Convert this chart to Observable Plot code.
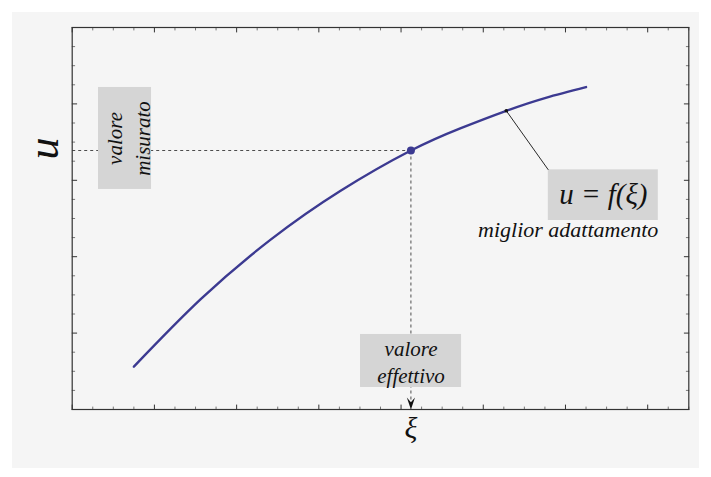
<!DOCTYPE html>
<html><head><meta charset="utf-8">
<script src="https://cdn.jsdelivr.net/npm/d3@7"></script>
<script src="https://cdn.jsdelivr.net/npm/@observablehq/plot@0.6"></script>
<style>
html,body{margin:0;padding:0;background:#fff;}
#chart{position:absolute;left:12px;top:12px;}
</style></head><body><div id="chart"></div>
<script>
// Curve (ξ, u)
const xiValues = [0.75, 1.56, 2.41, 3.26, 4.12, 4.72, 5.28, 5.76, 6.25];
const uValues  = [0.56, 1.44, 2.22, 2.86, 3.39, 3.68, 3.91, 4.08, 4.22];
const measuredIndex = 4;   // the highlighted point (valore effettivo / misurato)
const leaderIndex = 6;     // where the "best fit" leader touches the curve

// Frame tick values
const xMajorTicks = [0, 1, 2, 3, 4, 5, 6, 7];
const yMajorTicks = [0, 1, 2, 3, 4, 5];
const xDomain = [0, 7.5], yDomain = [0, 5];

// Texts
const yLabel = "u", xLabel = "ξ";
const measuredText = "valore\nmisurato";
const trueText = "valore\neffettivo";
const fitText = "u = f(ξ)";
const fitNote = "miglior adattamento";

const pts = xiValues.map((x, i) => ({xi: x, u: uValues[i]}));
const P = pts[measuredIndex];
const L = pts[leaderIndex];

// annotation boxes (data coordinates)
const boxMeasured = {x1: 0.32, x2: 0.965, y1: 2.88, y2: 4.215};
const boxTrue = {x1: 3.507, x2: 4.736, y1: 0.288, y2: 0.982};
const boxFit = {x1: 5.791, x2: 7.129, y1: 2.474, y2: 3.137};
const cx = b => (b.x1 + b.x2) / 2, cy = b => (b.y1 + b.y2) / 2;

const minorOf = (max, majors) => d3.range(0, max + 1e-9, 0.25).filter(v => !majors.includes(v));
const xMinor = minorOf(xDomain[1], xMajorTicks);
const yMinor = minorOf(yDomain[1], yMajorTicks);

const tickShape = {draw(ctx, l) { ctx.moveTo(0, 0); ctx.lineTo(0, -l); }};
const arrowHead = {draw(ctx, size) {
  const l = Math.sqrt(size / Math.PI), w = l * 0.34;
  ctx.moveTo(0, 0); ctx.lineTo(-w, -l); ctx.lineTo(0, -l * 0.6); ctx.lineTo(w, -l); ctx.closePath();
}};

function tickMarks(values, side, len, stroke) {
  const common = {anchor: "start", length: len, shape: tickShape, stroke, strokeWidth: 1};
  if (side === "bottom") return Plot.vector(values, {x: d => d, y: yDomain[0], rotate: 0, ...common});
  if (side === "top") return Plot.vector(values, {x: d => d, y: yDomain[1], rotate: 180, ...common});
  if (side === "left") return Plot.vector(values, {y: d => d, x: xDomain[0], rotate: 90, ...common});
  return Plot.vector(values, {y: d => d, x: xDomain[1], rotate: -90, ...common});
}

const serif = "Liberation Serif";
const curveColor = "#3c3a91";
const txt = {fontStyle: "italic", fontFamily: serif, fill: "#111"};

const chart = Plot.plot({
  width: 687, height: 456,
  marginLeft: 59.7, marginRight: 10.7, marginTop: 15, marginBottom: 59,
  axis: null,
  x: {domain: xDomain},
  y: {domain: yDomain},
  style: {background: "#f5f5f5", overflow: "visible"},
  marks: [
    // dashed guides
    Plot.link([P], {x1: xDomain[0], y1: "u", x2: "xi", y2: "u", stroke: "#222", strokeWidth: 0.8, strokeDasharray: "3,3"}),
    Plot.link([P], {x1: "xi", y1: "u", x2: "xi", y2: yDomain[0], stroke: "#222", strokeWidth: 0.8, strokeDasharray: "3,3"}),
    Plot.dot([P], {x: "xi", y: yDomain[0], symbol: arrowHead, r: 12, fill: "#111", stroke: "none"}),
    // boxes
    Plot.rect([boxMeasured, boxTrue, boxFit], {x1: "x1", x2: "x2", y1: "y1", y2: "y2", fill: "#d5d5d5"}),
    // frame and ticks
    tickMarks(xMinor, "bottom", 2.5, "#777"), tickMarks(xMinor, "top", 2.5, "#777"),
    tickMarks(xMajorTicks, "bottom", 4.5, "#333"), tickMarks(xMajorTicks, "top", 4.5, "#333"),
    tickMarks(yMinor, "left", 2.5, "#777"), tickMarks(yMinor, "right", 2.5, "#777"),
    tickMarks(yMajorTicks, "left", 4.5, "#333"), tickMarks(yMajorTicks, "right", 4.5, "#333"),
    Plot.frame({stroke: "#333", strokeWidth: 1.2}),
    // curve
    Plot.line(pts, {x: "xi", y: "u", curve: "natural", stroke: curveColor, strokeWidth: 2.4}),
    Plot.dot([P], {x: "xi", y: "u", r: 4, fill: curveColor}),
    // leader line
    Plot.link([L], {x1: "xi", y1: "u", x2: boxFit.x1, y2: boxFit.y2, stroke: "#111", strokeWidth: 0.9}),
    Plot.dot([L], {x: "xi", y: "u", r: 1.8, fill: "#111"}),
    // texts
    Plot.text([measuredText], {x: cx(boxMeasured) + 0.02, y: cy(boxMeasured), text: d => d, rotate: -90, fontSize: 21, lineHeight: 1.33, ...txt}),
    Plot.text([trueText], {x: cx(boxTrue), y: cy(boxTrue), text: d => d, fontSize: 21, lineHeight: 1.3, ...txt}),
    Plot.text([fitText], {x: cx(boxFit), y: cy(boxFit), text: d => d, fontSize: 29, ...txt}),
    Plot.text([fitNote], {x: boxFit.x2, y: 2.347, text: d => d, textAnchor: "end", fontSize: 22, ...txt}),
    Plot.text([yLabel], {frameAnchor: "left", y: P.u, dx: -28, dy: -2, rotate: -90, textAnchor: "middle", lineAnchor: "middle", text: d => d, fontSize: 44, ...txt}),
    Plot.text([xLabel], {frameAnchor: "bottom", x: P.xi, dy: 19, textAnchor: "middle", lineAnchor: "middle", text: d => d, fontSize: 30, ...txt})
  ]
});
document.getElementById("chart").appendChild(chart);
</script></body></html>
